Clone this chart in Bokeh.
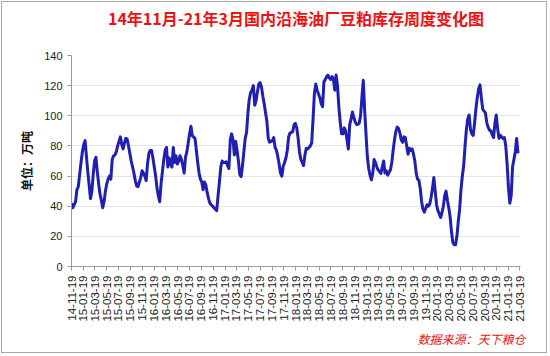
import pandas as pd
from math import pi
from bokeh.plotting import figure
from bokeh.models import FixedTicker, Title, Range1d, ColumnDataSource, LinearAxis
from bokeh.embed import file_html
from bokeh.resources import INLINE

title_text = "14年11月-21年3月国内沿海油厂豆粕库存周度变化图"
y_label_text = "单位：万吨"
source_text = "数据来源：天下粮仓"
start_date = "2014-11-19"
x_tick_labels = [
    "14-11-19", "15-01-19", "15-03-19", "15-05-19", "15-07-19", "15-09-19", "15-11-19",
    "16-01-19", "16-03-19", "16-05-19", "16-07-19", "16-09-19", "16-11-19",
    "17-01-19", "17-03-19", "17-05-19", "17-07-19", "17-09-19", "17-11-19",
    "18-01-19", "18-03-19", "18-05-19", "18-07-19", "18-09-19", "18-11-19",
    "19-01-19", "19-03-19", "19-05-19", "19-07-19", "19-09-19", "19-11-19",
    "20-01-19", "20-03-19", "20-05-19", "20-07-19", "20-09-19", "20-11-19",
    "21-01-19", "21-03-19",
]
y_ticks = [0, 20, 40, 60, 80, 100, 120, 140]

# weekly soybean meal stocks (10k t)
stock = [
    42, 39, 41, 43, 51, 53, 61, 69, 76, 81, 83.5, 73, 63, 54, 45, 50, 61, 70, 72.5, 63,
    55, 48, 44, 39, 43, 50, 55, 58, 60, 58, 71, 73.5, 74, 76, 80, 83, 86, 81, 78, 82,
    85, 84.5, 80, 75, 70, 66, 62, 57, 53.5, 53, 56, 59, 63.5, 62, 60, 57, 68, 75, 77, 77,
    72, 66, 60, 52, 47, 43, 55, 63, 71, 77, 79, 66, 72, 68, 66, 79, 69, 73.5, 68, 70,
    73.5, 71, 67, 62, 72.5, 76, 82, 88, 93, 86.7, 86, 85, 77, 69, 62, 58, 56, 51, 56, 54,
    49, 45, 42, 41, 40, 39, 38, 37, 47, 56, 66, 70, 69, 69, 69.5, 67, 65, 84, 88, 84,
    74, 83, 77, 70, 61, 59.6, 67, 76, 85, 89, 102, 111, 115.5, 117, 120, 107, 110, 116, 121, 122,
    119, 113, 108, 102, 96, 85, 82.5, 83, 83.5, 85.5, 79, 77, 73, 68, 62, 60, 66.5, 69, 72, 77,
    86, 88.5, 89, 89.5, 94, 95, 92, 85, 76, 71, 69, 67, 74, 78.5, 78, 79, 80, 82, 98, 115,
    121, 117, 114.5, 112, 108, 106, 122.5, 124, 126, 127, 125, 124, 126, 124.5, 117, 127, 120, 106, 96, 88,
    88, 92, 90, 84, 78, 94, 98, 102.5, 99, 96, 94.3, 94.3, 95, 100, 112, 123.5, 104, 88, 73, 65,
    60.5, 57.5, 62, 71, 69, 66, 64, 63, 61.7, 66, 70, 62, 63.5, 60.6, 62.5, 64, 69, 77, 84, 89.5,
    92.5, 91.5, 88.5, 84, 82.4, 86, 85.5, 80, 74.5, 78.5, 77, 78, 74.5, 70, 62, 58, 57, 51.5, 43, 38,
    36, 38.5, 41, 40, 41.5, 46, 52, 59, 50, 41, 37, 35, 32.5, 35.7, 40, 47, 50, 44, 39, 33,
    23, 16, 14.5, 14.5, 20, 30, 38, 51, 60, 67, 80, 91, 98, 100.5, 91, 88, 87, 95, 104.5, 112,
    118, 120.5, 112, 104.5, 103, 102, 95.5, 92.5, 90.5, 90, 87.5, 85.6, 95, 100.5, 91.5, 85, 87, 86, 85, 85.6,
    80, 68, 52, 42, 47, 66, 71, 76, 85, 75,
]

base = pd.Timestamp(start_date)
dates = [base + pd.Timedelta(days=7 * i) for i in range(len(stock))]
xdays = [(d - base).days for d in dates]
tick_days = [(pd.Timestamp("20" + t) - base).days for t in x_tick_labels]

src = ColumnDataSource(dict(x=xdays, y=stock))

# canvas is inset by 2px (1px margin + 1px border) inside the 550x356 window
W, H = 546, 352
FL, FR, FT, FB = 69, 28, 50, 88

x_end = tick_days[-1] + 4
p = figure(width=W, height=H, output_backend="svg", toolbar_location=None,
           x_range=Range1d(0, x_end), y_range=Range1d(0, 140),
           min_border_left=FL, min_border_right=FR, min_border_top=FT, min_border_bottom=FB)
p.outline_line_color = None
p.background_fill_color = "white"
p.border_fill_color = "white"
p.styles = {"border": "1px solid #a8a8a8", "margin": "1px"}

p.line("x", "y", source=src, line_width=3, line_color="#1f1fb4", line_join="round")

# title drawn as the label of a bare axis above the frame
title_axis = LinearAxis(axis_label=title_text, ticker=FixedTicker(ticks=[]))
title_axis.axis_line_color = None
title_axis.major_tick_line_color = None
title_axis.minor_tick_line_color = None
title_axis.major_tick_out = 0
title_axis.minor_tick_out = 0
title_axis.major_label_text_font_size = "0px"
title_axis.major_label_standoff = 0
title_axis.axis_label_text_font = "Noto Sans CJK SC"
title_axis.axis_label_text_font_size = "16px"
title_axis.axis_label_text_font_style = "bold"
title_axis.axis_label_text_color = "#ee1111"
title_axis.axis_label_standoff = 26
p.add_layout(title_axis, "above")

# source note
p.add_layout(Title(text=source_text, text_font="Noto Sans CJK SC", text_font_size="12px",
                   text_font_style="italic", text_color="#ee1111", align="right",
                   offset=-5, standoff=6), "below")

# axes
xax = p.below[0]
xax.ticker = FixedTicker(ticks=tick_days)
xax.major_label_overrides = {d: t for d, t in zip(tick_days, x_tick_labels)}
xax.major_label_orientation = pi / 2
xax.major_label_text_font = "Liberation Sans"
xax.major_label_text_font_size = "11.5px"
xax.major_label_text_color = "#222222"
xax.axis_line_color = "#9a9a9a"
xax.major_tick_line_color = "#9a9a9a"
xax.major_tick_out = 4
xax.major_tick_in = 0
xax.minor_tick_line_color = None
xax.major_label_standoff = 5

p.yaxis.ticker = FixedTicker(ticks=y_ticks)
p.yaxis.major_label_text_font = "Liberation Sans"
p.yaxis.major_label_text_font_size = "11px"
p.yaxis.major_label_text_color = "#222222"
p.yaxis.axis_line_color = "#9a9a9a"
p.yaxis.major_tick_line_color = "#9a9a9a"
p.yaxis.major_tick_out = 4
p.yaxis.major_tick_in = 0
p.yaxis.minor_tick_line_color = None
p.yaxis.major_label_standoff = 5
p.yaxis.axis_label = y_label_text
p.yaxis.axis_label_text_font = "Noto Sans CJK SC"
p.yaxis.axis_label_text_font_size = "12px"
p.yaxis.axis_label_text_font_style = "bold"
p.yaxis.axis_label_text_color = "#111111"
p.yaxis.axis_label_standoff = 6

p.xgrid.grid_line_color = None
p.ygrid.grid_line_color = "#e4e4e4"
p.ygrid.grid_line_width = 1

open("out.html", "w").write(file_html(p, INLINE))
